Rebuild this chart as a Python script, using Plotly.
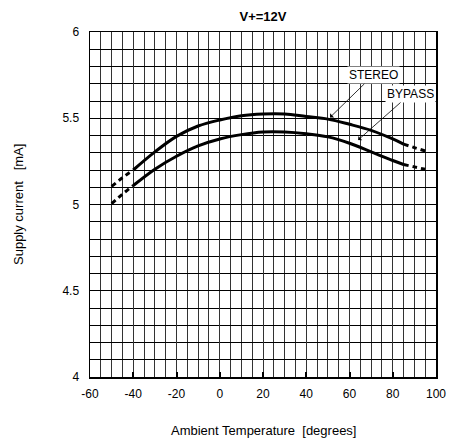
import plotly.graph_objects as go

# Data
temp_solid = [-40, -30, -20, -10, 0, 10, 20, 30, 40, 50, 60, 70, 80, 85]
stereo_solid = [5.20, 5.305, 5.395, 5.455, 5.49, 5.515, 5.525, 5.525, 5.51, 5.495, 5.465, 5.43, 5.38, 5.35]
bypass_solid = [5.11, 5.205, 5.28, 5.34, 5.38, 5.405, 5.42, 5.42, 5.41, 5.392, 5.355, 5.305, 5.255, 5.232]

temp_dash_left = [-50, -45, -40]
stereo_dash_left = [5.105, 5.155, 5.20]
bypass_dash_left = [5.005, 5.06, 5.11]

temp_dash_right = [85, 90, 95]
stereo_dash_right = [5.35, 5.33, 5.31]
bypass_dash_right = [5.232, 5.218, 5.204]

x_ticks = [-60, -40, -20, 0, 20, 40, 60, 80, 100]
y_ticks = [4, 4.5, 5, 5.5, 6]
y_tick_text = ["4", "4.5", "5", "5.5", "6"]

FONT = "Liberation Sans, Arial, sans-serif"
W, H = 450, 441
L, R, T, B = 90, 14, 32, 64

fig = go.Figure()

solid_style = dict(color="black", width=3)
dash_style = dict(color="black", width=3, dash="5px,4px")

for xs, ys, st in [
    (temp_solid, stereo_solid, solid_style),
    (temp_solid, bypass_solid, solid_style),
    (temp_dash_left, stereo_dash_left, dash_style),
    (temp_dash_left, bypass_dash_left, dash_style),
    (temp_dash_right, stereo_dash_right, dash_style),
    (temp_dash_right, bypass_dash_right, dash_style),
]:
    fig.add_trace(go.Scatter(x=xs, y=ys, mode="lines", line=dict(shape="spline", **st),
                             showlegend=False, hoverinfo="skip"))

fig.add_annotation(x=51, y=5.505, ax=43, ay=-42, text="STEREO", showarrow=True,
                   arrowhead=1, arrowsize=1.2, arrowwidth=0.8, arrowcolor="black",
                   bgcolor="white", font=dict(family=FONT, size=12, color="black"))
fig.add_annotation(x=64, y=5.374, ax=52, ay=-46, text="BYPASS", showarrow=True,
                   arrowhead=1, arrowsize=1.2, arrowwidth=0.8, arrowcolor="black",
                   bgcolor="white", font=dict(family=FONT, size=12, color="black"))

# Axis titles placed as paper annotations (x title at y=430 px, y title at x=18 px)
ph = H - T - B
pw = W - L - R
fig.add_annotation(xref="paper", yref="paper", x=0.5, y=-(430 - (H - B)) / ph,
                   yanchor="middle", xanchor="center", showarrow=False,
                   text="Ambient Temperature\u00a0\u00a0[degrees]",
                   font=dict(family=FONT, size=13, color="black"))
fig.add_annotation(xref="paper", yref="paper", x=-(L - 18) / pw, y=1 - (205 - T) / ph,
                   yanchor="middle", xanchor="center", showarrow=False, textangle=-90,
                   text="Supply current\u00a0\u00a0\u00a0[mA]",
                   font=dict(family=FONT, size=13, color="black"))

fig.update_layout(
    width=W, height=H,
    margin=dict(l=L, r=R, t=T, b=B),
    paper_bgcolor="white", plot_bgcolor="white",
    font=dict(family=FONT, size=12, color="black"),
    title=dict(text="<b>V+=12V</b>", x=(L + W - R) / 2 / W, xanchor="center",
               y=1 - 16 / H, yanchor="middle", font=dict(family=FONT, size=13)),
)

fig.update_xaxes(
    range=[-60, 100], tickvals=x_ticks, ticktext=[str(v) for v in x_ticks],
    showgrid=True, gridcolor="#333", gridwidth=1,
    minor=dict(dtick=5, tick0=-60, showgrid=True, gridcolor="#333", gridwidth=1),
    showline=True, linecolor="black", linewidth=1.5, mirror=True,
    ticks="inside", ticklen=5, tickwidth=2, tickcolor="black",
    ticklabelstandoff=5, zeroline=False, automargin=False,
    tickfont=dict(size=12),
)
fig.update_yaxes(
    range=[4, 6], tickvals=y_ticks, ticktext=y_tick_text,
    showgrid=True, gridcolor="black", gridwidth=1,
    minor=dict(dtick=0.1, tick0=4, showgrid=True, gridcolor="black", gridwidth=1),
    showline=True, linecolor="black", linewidth=1.5, mirror=True,
    ticks="", ticklabelstandoff=7, zeroline=False, automargin=False,
    tickfont=dict(size=12),
)

fig.write_html(
    "out.html",
    config={"displayModeBar": False, "staticPlot": True},
    post_script="document.body.style.margin='0';document.body.style.padding='0';"
                "document.documentElement.style.overflow='hidden';",
)
